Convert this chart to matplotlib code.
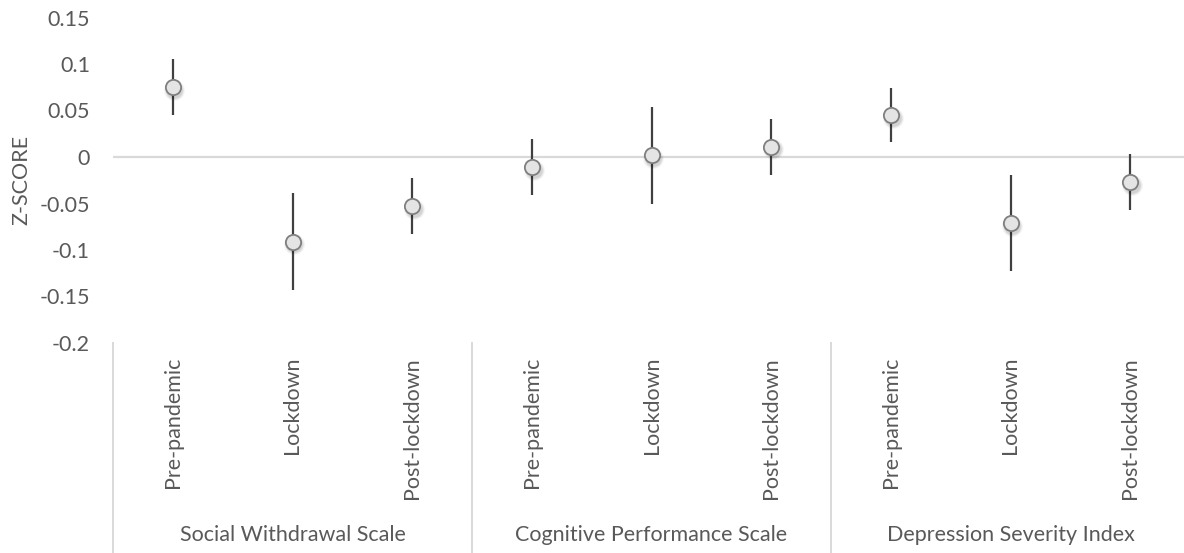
import matplotlib
matplotlib.use("Agg")
import matplotlib.pyplot as plt
import matplotlib.transforms as mtransforms

# Data
groups = ["Social Withdrawal Scale", "Cognitive Performance Scale", "Depression Severity Index"]
phases = ["Pre-pandemic", "Lockdown", "Post-lockdown"]
social_withdrawal = [0.075, -0.091, -0.053]
cognitive_performance = [-0.011, 0.002, 0.011]
depression_severity = [0.045, -0.071, -0.027]
social_withdrawal_err = [0.030, 0.052, 0.030]
cognitive_performance_err = [0.030, 0.052, 0.030]
depression_severity_err = [0.029, 0.052, 0.030]
y_ticks = [-0.2, -0.15, -0.1, -0.05, 0, 0.05, 0.1, 0.15]
y_tick_labels = ["-0.2", "-0.15", "-0.1", "-0.05", "0", "0.05", "0.1", "0.15"]

values = social_withdrawal + cognitive_performance + depression_severity
errors = social_withdrawal_err + cognitive_performance_err + depression_severity_err
labels = phases * len(groups)
xs = list(range(len(values)))

TEXT = "#595959"
LIGHT = "#d9d9d9"
FS = 15.5

plt.rcParams["font.family"] = ["Lato", "DejaVu Sans"]

W, H, DPI = 1184, 553, 100
fig = plt.figure(figsize=(W / DPI, H / DPI), dpi=DPI)
left_px, right_px, top_px, bottom_px = 113, 1190, 17.5, 343
ax = fig.add_axes([left_px / W, 1 - bottom_px / H,
                   (right_px - left_px) / W, (bottom_px - top_px) / H])

ax.set_xlim(-0.5, len(values) - 0.5)
ax.set_ylim(-0.2, 0.15)
for s in ax.spines.values():
    s.set_visible(False)

# zero line
ax.axhline(0, color=LIGHT, lw=1.6, zorder=1)

# error bars
ax.errorbar(xs, values, yerr=errors, fmt="none", ecolor="#404040",
            elinewidth=1.6, capsize=0, zorder=3)

# soft marker shadow
for ms, a in [(15, 0.04), (13.5, 0.06), (12, 0.08)]:
    tr = mtransforms.offset_copy(ax.transData, fig=fig, x=1.2, y=-1.8, units="points")
    ax.plot(xs, values, "o", ms=ms, color="black", alpha=a, mec="none",
            transform=tr, zorder=4)

ax.plot(xs, values, "o", ms=11, mfc="#e4e4e4", mec="#7f7f7f", mew=1.3, zorder=5)

# y axis
ax.set_yticks(y_ticks)
ax.set_yticklabels(y_tick_labels)
ax.tick_params(axis="y", length=0, pad=16.5, labelsize=FS, labelcolor=TEXT)
ax.set_ylabel("Z-SCORE", color=TEXT, fontsize=FS)
ax.yaxis.set_label_coords(-(left_px - 31) / (right_px - left_px), 0.5)

# x axis: phase labels
ax.set_xticks(xs)
ax.set_xticklabels(labels, rotation=90)
ax.tick_params(axis="x", length=0, pad=10, labelsize=FS, labelcolor=TEXT)

# group separators and group labels
ax_h = bottom_px - top_px
sep_bottom = -(H - bottom_px) / ax_h
trans = mtransforms.blended_transform_factory(ax.transData, ax.transAxes)
for b in range(len(groups) + 1):
    xb = b * len(phases) - 0.5
    ax.plot([xb, xb], [0, sep_bottom], color=LIGHT, lw=1.4,
            transform=trans, clip_on=False)
for g, name in enumerate(groups):
    xc = g * len(phases) + (len(phases) - 1) / 2
    ax.text(xc, -(535 - bottom_px) / ax_h, name, transform=trans,
            ha="center", va="center", color=TEXT, fontsize=FS)

fig.savefig("out.png", dpi=DPI)
